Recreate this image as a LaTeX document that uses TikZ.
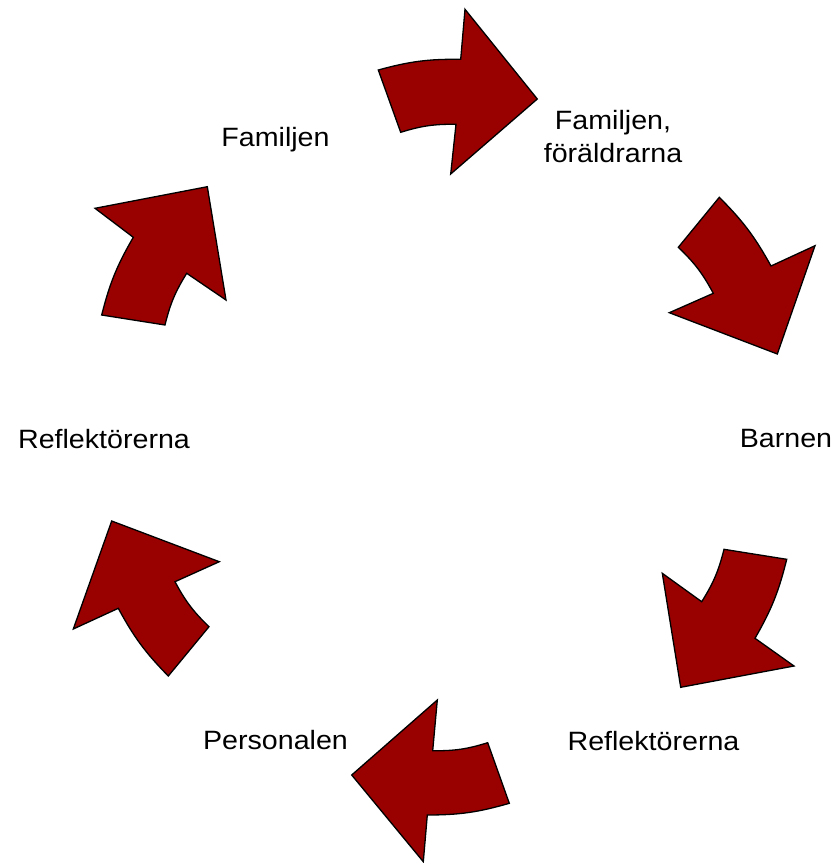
\documentclass[tikz,border=0pt]{standalone}
\usepackage{fontspec}
\setmainfont{Liberation Sans}[FakeStretch=1.08]
\begin{document}
\begin{tikzpicture}[x=1pt,y=1pt,
  cyclearrow/.style={fill=arrowred,draw=black,line width=1.3pt,line join=miter},
  lab/.style={inner sep=0pt,anchor=base,align=center,font=\fontsize{26.5}{33}\selectfont}]
\definecolor{arrowred}{HTML}{990000}
\useasboundingbox (0,0) rectangle (837,-863);
% arrow 1 (top)
\draw[cyclearrow] (378.3,-70) to[bend left=8] (460.7,-59.3) -- (465,-9.3) -- (537.3,-99)
  -- (450.7,-174) -- (456,-124.3) to[bend right=9] (400.7,-132.3) -- cycle;
% arrow 2 (upper right)
\draw[cyclearrow] (719.3,-197.3) to[bend left=8] (771,-266) -- (815,-245.7) -- (777.3,-354)
  -- (669.3,-312.7) -- (713.3,-293.3) to[bend right=9] (678.3,-247.3) -- cycle;
% arrow 3 (lower right)
\draw[cyclearrow] (786.7,-559.3) to[bend left=8] (755,-638.3) -- (794,-666) -- (680.7,-687.3)
  -- (662.3,-573.3) -- (701.7,-601.7) to[bend right=9] (724,-549.3) -- cycle;
% arrow 4 (bottom)
\draw[cyclearrow] (509.3,-803.3) to[bend left=8] (427.3,-815) -- (423.3,-861.7) -- (351.7,-775)
  -- (437.3,-700) -- (432.7,-750.7) to[bend right=9] (487.7,-742.7) -- cycle;
% arrow 5 (lower left)
\draw[cyclearrow] (168.3,-676) to[bend left=8] (118.3,-608.3) -- (73.3,-629) -- (111.7,-521)
  -- (219.3,-561.7) -- (175,-581.7) to[bend right=9] (209,-626.7) -- cycle;
% arrow 6 (upper left)
\draw[cyclearrow] (101.7,-315) to[bend left=8] (133.3,-237.3) -- (95,-208.3) -- (207.3,-186.7)
  -- (226,-300) -- (186.7,-273.3) to[bend right=9] (165,-325) -- cycle;
% labels
\node[lab] (fam) at (275.5,-146) {Familjen};
\node[lab] (famfor) at (613,-162) {Familjen,\\föräldrarna};
\node[lab] (barn) at (786,-447) {Barnen};
\node[lab] (refr) at (653.5,-750) {Reflektörerna};
\node[lab] (pers) at (275.5,-749) {Personalen};
\node[lab] (refl) at (104,-448) {Reflektörerna};
\end{tikzpicture}
\end{document}
